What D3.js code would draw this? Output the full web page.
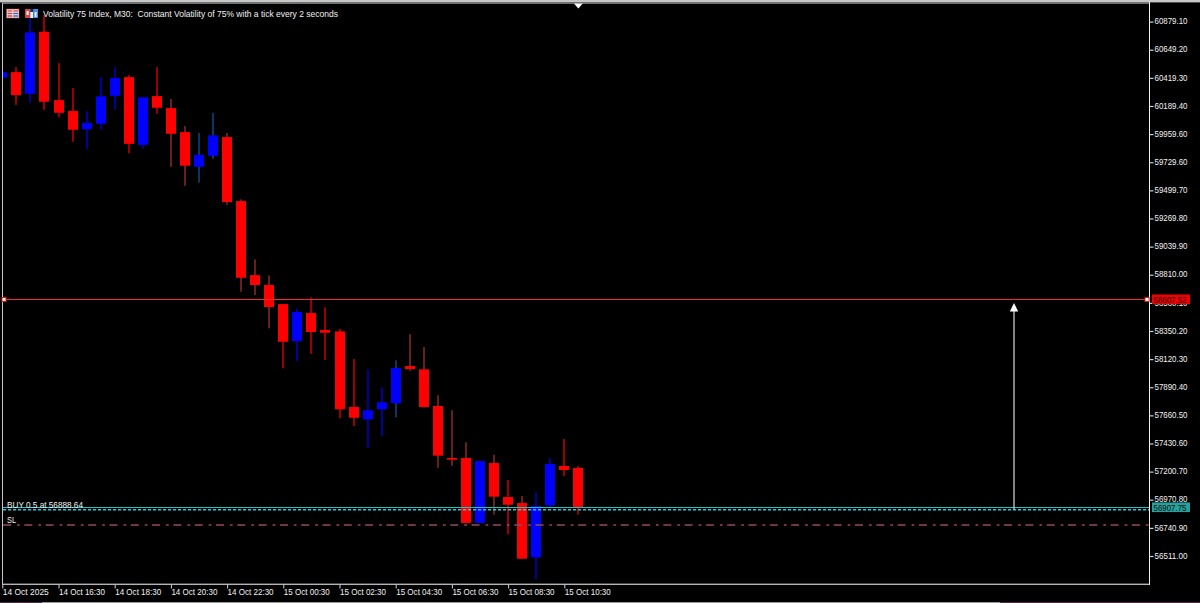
<!DOCTYPE html>
<html><head><meta charset="utf-8">
<script src="https://cdn.jsdelivr.net/npm/d3@7/dist/d3.min.js"></script>
<style>html,body{margin:0;padding:0;background:#000;overflow:hidden}svg{display:block}text{font-family:"Liberation Sans",Arial,sans-serif;font-size:9.8px}</style>
</head><body><svg id="c" width="1200" height="603"></svg>
<script>
const title = "Volatility 75 Index, M30:  Constant Volatility of 75% with a tick every 2 seconds";
const timeLabels = ["14 Oct 2025","14 Oct 16:30","14 Oct 18:30","14 Oct 20:30","14 Oct 22:30","15 Oct 00:30","15 Oct 02:30","15 Oct 04:30","15 Oct 06:30","15 Oct 08:30","15 Oct 10:30"];
const priceTicks = [60879.10,60649.20,60419.30,60189.40,59959.60,59729.60,59499.70,59269.80,59039.90,58810.00,58580.10,58350.20,58120.30,57890.40,57660.50,57430.60,57200.70,56970.80,56740.90,56511.00];
const opens  = [60421,60466,60289,60796,60237,60148,60000,60044,60273,60425,59872,60270,60172,59976,59692,59782,59935,59412,58807,58726,58570,58268,58497,58358,58347,57729,57628,57710,57759,58064,58037,57737,57312,57312,56781,57271,56993,56944,56500,56925,57247,57230];
const highs  = [60466,60507,60916,60932,60540,60336,60148,60425,60507,60442,60260,60507,60246,60025,59968,60131,59968,59426,58936,58805,58570,58535,58625,58543,58366,58121,58037,57890,58110,58325,58219,57824,57702,57440,57287,57339,57132,57001,57032,57312,57467,57247];
const lows   = [60421,60199,60215,60158,60099,59897,59840,59995,60158,59804,59840,60126,59692,59537,59562,59758,59382,58671,58644,58372,58045,58105,58164,58113,57636,57573,57391,57494,57645,58025,57723,57233,57249,56781,56781,56849,56688,56489,56323,56911,57165,56849];
const closes = [60466,60278,60791,60224,60134,59995,60050,60268,60417,59880,60260,60175,59962,59701,59790,59949,59404,58785,58726,58546,58262,58505,58342,58336,57710,57641,57702,57767,58047,58039,57729,57331,57298,56781,57287,56996,56930,56489,56920,57263,57214,56909];
const bidPrice = 58607.52, askPrice = 56907.75, buyPrice = 56888.64, slPrice = 56764;
const buyLabel = "BUY 0.5 at 56888.64", slLabel = "SL";

const W = 1200, H = 603, L = 2, R = 1149, T = 3, B = 584;
const svg = d3.select("#c");
const fmt = d3.format(".2f");
const y = d3.scaleLinear().domain([56511, 60879.1]).range([556, 21.6]);
const x = d3.scaleLinear().domain([0, 40]).range([2.3, 564.3]);
const RED = "#ff0000", BLUE = "#0000ff", TXT = "#f2f2f2";
const mutedWicks = new Set([12,13,14,15,16,17,18,19,28,29,30,31,32,33,35,37]);
const candles = opens.map((o, i) => ({i, o, h: highs[i], l: lows[i], c: closes[i], up: closes[i] >= o}));
const cx = d => Math.round(x(d.i));

svg.append("defs").append("clipPath").attr("id", "plot").append("rect")
  .attr("x", L + 1).attr("y", T).attr("width", R - L - 1).attr("height", B - T);

svg.append("rect").attr("x", 0).attr("y", 0).attr("width", W).attr("height", 2.4).attr("fill", "#c8c8c8");
svg.append("rect").attr("x", L).attr("y", 2.4).attr("width", R - L).attr("height", 1.4).attr("fill", "#8c8c8c");
svg.append("rect").attr("x", 0).attr("y", 602).attr("width", 42).attr("height", 1).attr("fill", "#4a2a4a");
svg.append("rect").attr("x", 42).attr("y", 602).attr("width", 958).attr("height", 1).attr("fill", "#9a9a9a");
svg.append("rect").attr("x", 1000).attr("y", 602).attr("width", 200).attr("height", 1).attr("fill", "#4a2a4a");

const plot = svg.append("g").attr("clip-path", "url(#plot)");
plot.append("g").selectAll("rect").data(candles).join("rect")
  .attr("x", d => cx(d) - (mutedWicks.has(d.i) ? 0.75 : 0.6))
  .attr("width", d => mutedWicks.has(d.i) ? 1.5 : 1.2)
  .attr("y", d => y(d.h)).attr("height", d => y(d.l) - y(d.h))
  .attr("fill", d => mutedWicks.has(d.i) ? (d.up ? "#0d4a85" : "#8c2a2a") : (d.up ? BLUE : RED));
plot.append("g").selectAll("rect").data(candles).join("rect")
  .attr("x", d => cx(d) - 5).attr("width", 10)
  .attr("y", d => y(Math.max(d.o, d.c)))
  .attr("height", d => Math.max(1, Math.abs(y(d.o) - y(d.c))))
  .attr("fill", d => d.up ? BLUE : RED);

const hline = (p, col, dash, w) => svg.append("line")
  .attr("x1", L + 1).attr("x2", R).attr("y1", y(p)).attr("y2", y(p))
  .attr("stroke", col).attr("stroke-width", w).attr("stroke-dasharray", dash);
hline(bidPrice, "#ef2a2a", null, 1.1);
hline(askPrice, "#30bdb8", null, 1.1);
hline(buyPrice, "#22c8d8", "3.2 1.8", 1.4);
hline(slPrice, "#94485e", "8 6 2.7 4.6", 1.4);

const label = (s, px, py, len) => svg.append("text").text(s).attr("x", px).attr("y", py)
  .attr("fill", TXT).attr("textLength", len).attr("lengthAdjust", "spacingAndGlyphs");
label(buyLabel, 7, y(buyPrice) - 1.8, 76);
label(slLabel, 7, y(slPrice) - 1.6, 9);

const ax = 1014;
svg.append("line").attr("x1", ax).attr("x2", ax).attr("y1", y(buyPrice)).attr("y2", y(bidPrice) + 8)
  .attr("stroke", "#c9c9c9").attr("stroke-width", 1.3);
svg.append("path").attr("d", d3.line()([[ax, y(bidPrice) + 3.5], [ax + 4.2, y(bidPrice) + 12], [ax - 4.2, y(bidPrice) + 12]]) + "Z").attr("fill", "#fff");

svg.append("rect").attr("x", L).attr("y", T).attr("width", 1).attr("height", B - T).attr("fill", "#c4c4c4");
svg.append("rect").attr("x", R).attr("y", T - 1).attr("width", 1).attr("height", B - T + 2).attr("fill", "#f2f2f2");
svg.append("rect").attr("x", L).attr("y", B - 0.4).attr("width", R - L).attr("height", 1.4).attr("fill", "#b4b4b4");

const yAxis = svg.append("g").attr("transform", `translate(${R + 0.5},0)`)
  .call(d3.axisRight(y).tickValues(priceTicks).tickFormat(fmt).tickSize(4).tickPadding(1));
yAxis.select(".domain").remove();
yAxis.selectAll("line").attr("stroke", "#cfcfcf").attr("stroke-width", 1.2);
yAxis.selectAll("text").attr("fill", TXT).attr("y", -0.9).attr("textLength", 33).attr("lengthAdjust", "spacingAndGlyphs").style("font-size", "9.8px");

const timeIdx = timeLabels.map((_, k) => k * 4);
const xAxis = svg.append("g").attr("transform", `translate(0,${B + 0.5})`)
  .call(d3.axisBottom(x).tickValues(timeIdx).tickFormat((d, k) => timeLabels[k]).tickSize(4).tickPadding(0));
xAxis.select(".domain").remove();
xAxis.selectAll("line").attr("stroke", "#cfcfcf").attr("stroke-width", 1);
xAxis.selectAll("text").attr("fill", TXT).attr("text-anchor", "start")
  .attr("textLength", 46).attr("lengthAdjust", "spacingAndGlyphs").style("font-size", "9.8px");

const tag = (p, fill, s) => {
  svg.append("rect").attr("x", 1152).attr("y", y(p) - 5).attr("width", 38).attr("height", 9.6).attr("fill", fill);
  svg.append("text").text(s).attr("x", 1153.5).attr("y", y(p) + 3.2).attr("fill", "#1a0606")
    .attr("textLength", 33).attr("lengthAdjust", "spacingAndGlyphs");
};
tag(bidPrice, "#f00000", fmt(bidPrice));
tag(askPrice, "#23a3a0", fmt(askPrice));

[4, 1147].forEach(px => svg.append("rect").attr("x", px - 2).attr("y", y(bidPrice) - 2)
  .attr("width", 4).attr("height", 4).attr("fill", "#fff").attr("stroke", "#e81414").attr("stroke-width", 1));

const mx = x(41);
svg.append("path").attr("d", d3.line()([[mx - 4.4, 3.6], [mx + 4.4, 3.6], [mx, 8.6]]) + "Z").attr("fill", "#fff");

const icon1 = svg.append("g");
icon1.append("rect").attr("x", 6.5).attr("y", 9).attr("width", 12.5).attr("height", 9).attr("fill", "#f4e8e8").attr("stroke", "#a04040").attr("stroke-width", 0.6);
[0, 1, 2].forEach(r => {
  icon1.append("rect").attr("x", 7.5).attr("y", 10.3 + r * 2.5).attr("width", 4.8).attr("height", 1.4).attr("fill", r ? "#c04040" : "#e05050");
  icon1.append("rect").attr("x", 13.2).attr("y", 10.3 + r * 2.5).attr("width", 4.8).attr("height", 1.4).attr("fill", r ? "#4060c0" : "#e05050");
});
const icon2 = svg.append("g");
icon2.append("rect").attr("x", 25).attr("y", 9).attr("width", 5.2).attr("height", 9).attr("fill", "#d04848");
icon2.append("rect").attr("x", 26.5).attr("y", 11).attr("width", 2.2).attr("height", 4).attr("fill", "#f0f0f0");
icon2.append("rect").attr("x", 30.2).attr("y", 9).attr("width", 3).attr("height", 9).attr("fill", "#f0f0f0");
icon2.append("rect").attr("x", 30.2).attr("y", 9).attr("width", 3).attr("height", 3).attr("fill", "#1a2a60");
icon2.append("rect").attr("x", 33.2).attr("y", 9).attr("width", 4.8).attr("height", 9).attr("fill", "#4a90d8");
icon2.append("rect").attr("x", 34.6).attr("y", 12).attr("width", 2).attr("height", 5).attr("fill", "#e8f0f8");
svg.append("text").text(title).attr("x", 43).attr("y", 17).attr("fill", TXT)
  .attr("textLength", 295).attr("lengthAdjust", "spacingAndGlyphs").style("white-space", "pre");
</script>
</body></html>
